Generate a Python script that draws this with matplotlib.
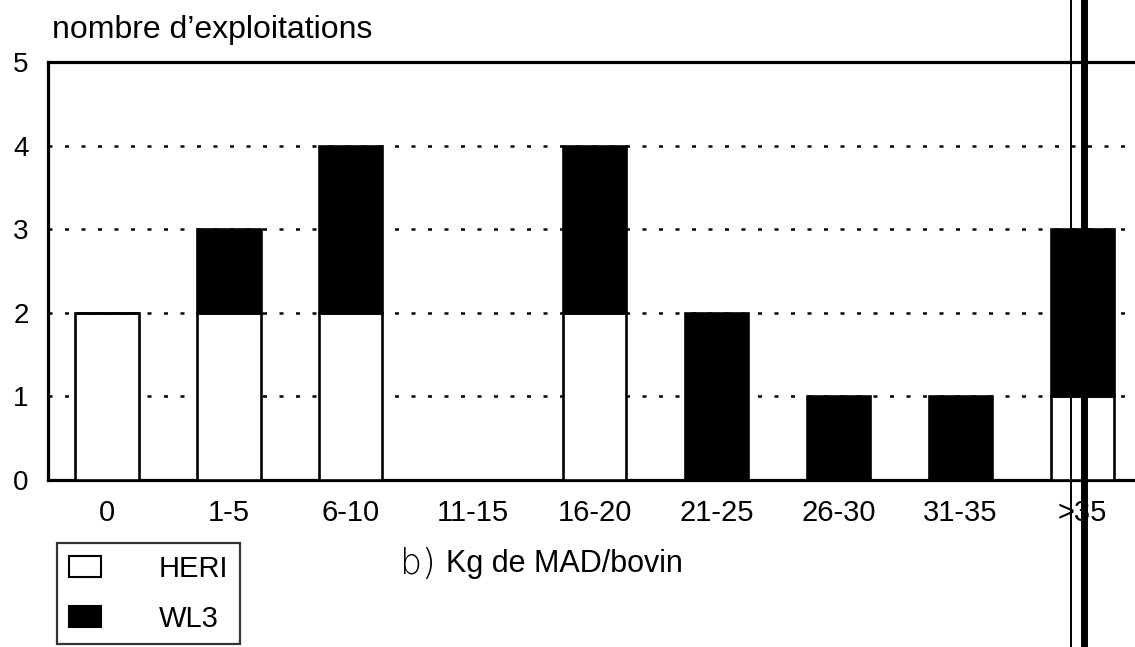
import matplotlib
matplotlib.use("Agg")
import matplotlib.pyplot as plt
from matplotlib.patches import Patch
from matplotlib.lines import Line2D

categories = ['0', '1-5', '6-10', '11-15', '16-20', '21-25', '26-30', '31-35', '>35']
heri = [2, 2, 2, 0, 2, 0, 0, 0, 1]
wl3 = [0, 1, 2, 0, 2, 2, 1, 1, 2]
y_ticks = [0, 1, 2, 3, 4, 5]

W, H = 1135, 647
plt.rcParams['font.family'] = ['Liberation Sans', 'DejaVu Sans']

fig = plt.figure(figsize=(W / 100, H / 100), dpi=100)
ax = fig.add_axes([48 / W, 1 - 480 / H, 1 - 48 / W, (480 - 62) / H])

x = list(range(len(categories)))
width = 0.52
ax.bar(x, heri, width=width, color='white', edgecolor='black', linewidth=1.9, zorder=3)
ax.bar(x, wl3, width=width, bottom=heri, color='black', edgecolor='black', linewidth=1.9, zorder=3)

ax.set_xlim(-0.484, 8.433)
ax.set_ylim(0, 5)
ax.set_yticks(y_ticks)
ax.set_yticklabels([str(v) for v in y_ticks], fontsize=20)
ax.set_xticks(x)
ax.set_xticklabels(categories, fontsize=21)
ax.tick_params(axis='y', length=0, pad=14)
ax.tick_params(axis='x', length=0, pad=14)

ax.set_axisbelow(True)
ax.yaxis.grid(True, linestyle=(0, (1.6, 5)), linewidth=1.8, color='black')

for side in ('left', 'top', 'bottom'):
    ax.spines[side].set_linewidth(2.3)
    ax.spines[side].set_color('black')
ax.spines['right'].set_visible(False)

# axis captions
fig.text(52 / W, 1 - 38 / H, "nombre d\u2019exploitations", fontsize=23, va='baseline', ha='left')
fig.text(436 / W, 1 - 574 / H, "b)", fontsize=25, va='baseline', ha='right',
         family=['DejaVu Sans'], fontweight='light')
fig.text(446 / W, 1 - 572 / H, "Kg de MAD/bovin", fontsize=22, va='baseline', ha='left')

# legend
handles = [Patch(facecolor='white', edgecolor='black', linewidth=1.5, label='HERI'),
           Patch(facecolor='black', edgecolor='black', linewidth=1.5, label='WL3')]
leg = fig.legend(handles=handles, loc='upper left',
                 bbox_to_anchor=(57 / W, 1 - 543 / H), bbox_transform=fig.transFigure,
                 fontsize=21, frameon=True, fancybox=False, edgecolor='black',
                 handlelength=1.1, handleheight=0.75, handletextpad=2.0,
                 borderpad=0.4, labelspacing=0.75, borderaxespad=0)
leg.get_frame().set_linewidth(1.6)

# double rule crossing the page
fig.add_artist(Line2D([1071 / W, 1071 / W], [0, 1], transform=fig.transFigure,
                      color='black', linewidth=1.4, zorder=10))
fig.add_artist(Line2D([1084 / W, 1084 / W], [0, 1], transform=fig.transFigure,
                      color='black', linewidth=5.0, zorder=10))

fig.savefig("out.png", dpi=100, facecolor='white')
